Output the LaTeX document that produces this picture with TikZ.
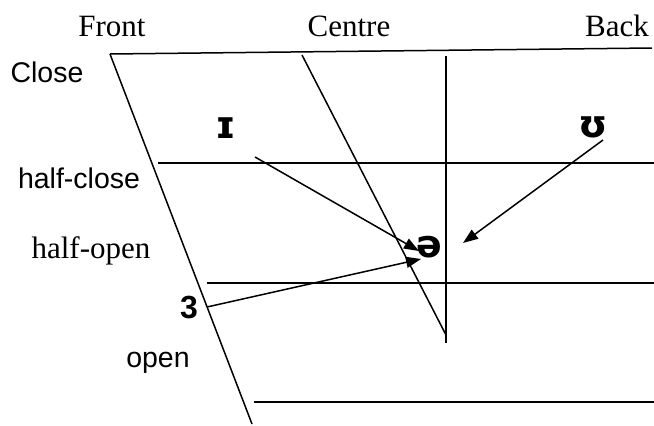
\documentclass[tikz,border=0pt]{standalone}
\usepackage{fontspec}
\setmainfont{Liberation Serif}
\newfontfamily\arialfont{Liberation Sans}
\newfontfamily\ipafont{DejaVu Sans}
\usetikzlibrary{arrows.meta}

\begin{document}
\begin{tikzpicture}[x=1pt,y=-1pt,line width=1.5pt,
  tlabel/.style={font=\fontsize{31}{34}\selectfont,inner sep=0pt,anchor=base},
  alabel/.style={font=\arialfont\fontsize{28.5}{31}\selectfont,inner sep=0pt,anchor=base},
  vowel/.style={font=\ipafont\bfseries\fontsize{38}{40}\selectfont,inner sep=0pt,anchor=base},
  move/.style={-{Triangle[length=15pt,width=11pt]}}]
\useasboundingbox (0,0) rectangle (654,426);
\node[tlabel] (front) at (112,36) {Front};
\node[tlabel] (centre) at (349,36) {Centre};
\node[tlabel] (back) at (617,36) {Back};
\node[alabel] (close) at (47,82) {Close};
\node[alabel] (halfclose) at (79,188) {half-close};
\node[tlabel] (halfopen) at (91,258) {half-open};
\node[alabel] (open) at (158,367) {open};
\node[vowel] (ih) at (226,138) {ɪ};
\node[vowel] (uh) at (593,137) {ʊ};
\node[vowel] (schwa) at (429,257) {ə};
\node[alabel,font=\arialfont\bfseries\fontsize{32}{34}\selectfont] (er) at (189,318) {3};
\draw (110,54) -- (652,48);
\draw (110,54) -- (252,424);
\draw (302,55) -- (446,335);
\draw (446,56) -- (446,343);
\draw (158,163) -- (654,163);
\draw (207,283) -- (654,283);
\draw (254,402) -- (654,402);
\coordinate (ihstart) at (255,157);
\coordinate (ihend) at (419,251);
\coordinate (uhstart) at (603,140);
\coordinate (uhend) at (463,243);
\coordinate (erstart) at (207,307);
\coordinate (erend) at (421,259);
\draw[move] (ihstart) -- (ihend);
\draw[move] (uhstart) -- (uhend);
\draw[move] (erstart) -- (erend);
\end{tikzpicture}
\end{document}
